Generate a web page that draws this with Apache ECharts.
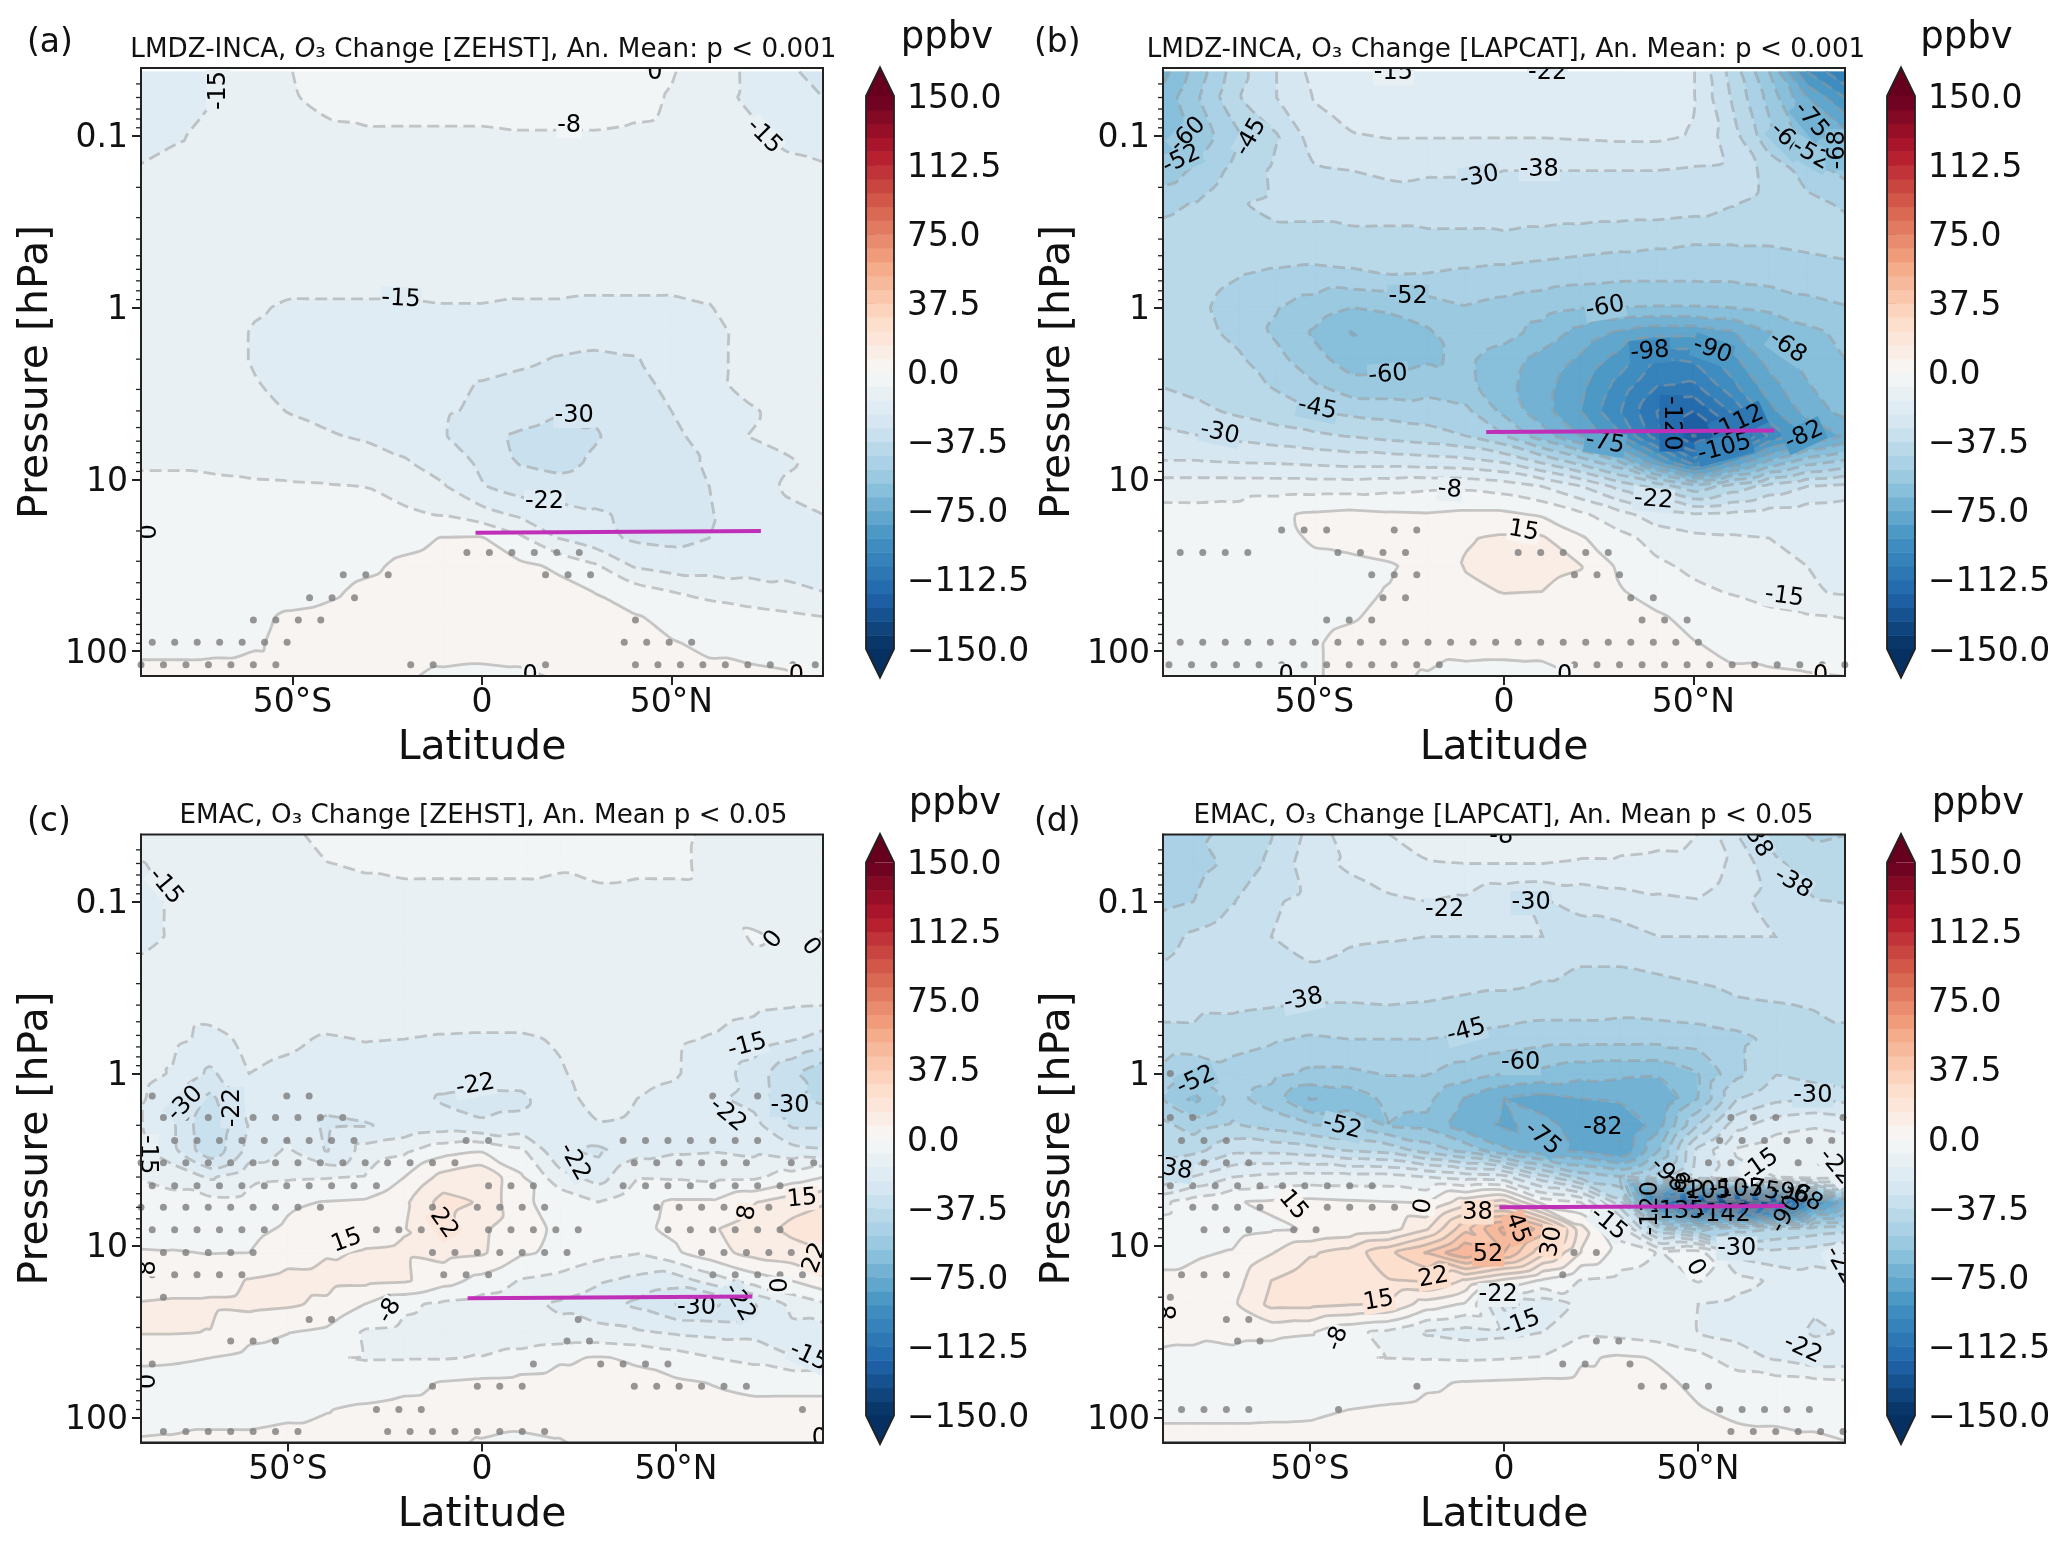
<!DOCTYPE html>
<html><head><meta charset="utf-8">
<style>html,body{margin:0;padding:0;background:#fff}#c{width:2067px;height:1544px}</style>
<script src="https://cdn.jsdelivr.net/npm/echarts@6/dist/echarts.min.js"></script>
</head><body><div id="c"></div>
<script>
// ---------- data ----------
const latGrid = [-90,-80,-70,-60,-50,-40,-30,-20,-10,0,10,20,30,40,50,60,70,80,90];
const pressuresLmdz = [0.0425,0.06,0.1,0.16,0.25,0.4,0.63,1,1.4,2,2.8,4,5.6,8,11,16,22,32,45,63,90,140];
const pressuresEmac = [0.04,0.06,0.1,0.16,0.25,0.4,0.63,1,1.4,2,2.8,4,5.6,8,11,16,22,32,45,63,90,141];

const fieldA = [
[-19,-18,-15.5,-11,-7.5,-5,-4,-4,-4,-4,-4,-4,-4,-5,-7,-11,-16,-21,-25],
[-19,-17.5,-15,-11,-8,-5.5,-4.5,-4.5,-4.5,-4.5,-4.5,-4.5,-4.5,-5.5,-8,-12,-16,-19,-22.5],
[-17,-15.5,-13,-11,-10,-9,-8.5,-8.5,-8.5,-8.5,-8,-8,-8,-8.5,-9,-10,-13,-16.5,-18],
[-14.5,-13,-12,-11,-11,-11,-11,-11,-11,-11,-11,-11,-11,-11,-11,-11,-12,-13,-14],
[-12,-12,-12,-12,-12,-12,-12,-12,-12,-12,-12,-12,-12,-12,-12,-12,-12,-12,-12],
[-12.5,-12.5,-12.5,-12.5,-12.5,-12.5,-12.5,-12.5,-12.5,-12.5,-12.5,-12.5,-12.5,-12.5,-12.5,-12.5,-12.5,-12.5,-12.5],
[-12.5,-12.5,-13,-13,-13.5,-13.5,-13.5,-13.5,-13.5,-13.5,-13.5,-13.5,-13.5,-13.5,-13.5,-13.5,-13,-12.5,-12.5],
[-12,-12,-13,-14.6,-15.5,-15.5,-15.5,-15.5,-15.2,-15.2,-15.5,-15.5,-15.8,-15.8,-15.8,-15.2,-13,-12.5,-12],
[-12,-12,-13.5,-15.3,-16,-17,-17,-17,-17,-17.5,-18,-19,-19.5,-19,-18,-16,-14,-13,-12.5],
[-12,-12,-13.5,-15.3,-17,-18,-18.5,-18.5,-19,-19.5,-21,-23,-24,-23,-20,-16,-14,-13,-12.5],
[-12,-12,-13,-14.8,-16,-17.5,-18.5,-19.5,-20.5,-23,-24.5,-26,-26.5,-24.5,-21,-16,-14,-13,-12.5],
[-12,-12,-13,-13.8,-15.3,-17,-18,-19,-21.5,-24,-26.5,-29,-29,-26,-22.5,-18,-15.5,-14,-13],
[-12,-12,-12.5,-13,-13.5,-14.5,-16,-17.5,-22,-28,-31,-33,-30.5,-27,-24,-20,-15,-14,-13],
[-8,-8,-8.5,-9,-9.5,-10.5,-12,-14.5,-18,-24,-30.5,-32,-29,-26,-24,-22,-18,-15.5,-14],
[-6.5,-6.5,-6.5,-6.8,-7,-7.2,-7.6,-10,-14.5,-22,-26,-27.5,-26.5,-25,-24,-22.5,-18,-14.5,-13.5],
[-4,-4.5,-4.5,-4.5,-4.8,-5.5,-6,-6.5,-8,-12,-16.5,-19,-21.5,-24,-25,-23,-19,-16,-15],
[-2.5,-3,-3,-3,-3,-3,-2.5,-1.5,0.3,0.5,-6,-15,-20,-23.5,-24.5,-22.5,-20,-18,-17],
[-2,-2,-2,-2,-2,-1.8,-0.8,1,2,2.5,1.5,-1,-6.5,-15.5,-18,-18,-17.5,-17,-16.5],
[-2,-2,-2,-1.8,-1.5,-0.6,1,2,2.5,2.5,2.5,2,-0.2,-3.5,-7.5,-10,-12,-13.5,-15],
[-1.8,-1.7,-1.5,-0.6,0.5,1,2,2.5,2.5,2.5,2.5,2.5,2,0.5,-1.5,-3,-4.5,-6,-7.5],
[-1,-1,-0.8,-0.3,0.8,1.5,2,2.5,2.5,2.5,2.5,2.5,2,1.5,0.3,-0.8,-1.5,-2,-2.5],
[1,1,1,1,1,1,1,0.5,-1,-1.5,-1,0.5,1,1,1,1,1,0.5,-0.5]];

const fieldB = [
[-70,-55,-40,-30,-20,-18,-14,-18,-20,-21,-22,-20,-20,-20,-22,-40,-60,-90,-105],
[-65,-52,-38,-30,-22,-18,-17,-18,-19,-20,-20,-20,-20,-20,-22,-38,-55,-75,-90],
[-65,-56,-46,-38,-26,-23,-22,-22,-22,-22,-22,-21.5,-21,-21,-23,-34,-50,-65,-72],
[-57,-50,-42,-36,-31,-30,-28,-29,-29,-30,-30,-30,-30,-30,-31,-32,-40,-48,-55],
[-47,-44,-38,-36,-36,-35,-35,-34,-34,-33,-33,-33,-33,-33,-34,-37,-40,-43,-46],
[-42,-40,-39,-39,-39,-39,-39,-39,-39,-39,-40,-41,-42,-43,-44,-44,-44,-43,-42],
[-41,-42,-44.5,-46,-47,-46,-44.5,-45,-46,-47,-48,-49,-50,-50,-50,-50,-49,-48,-47],
[-41,-44,-48,-52,-56,-60,-59,-56,-53,-55,-57,-59.5,-60,-60.5,-60.5,-60,-58,-55,-53],
[-40,-43,-47,-54,-61,-68,-63,-61,-54,-57,-63,-70,-76,-80,-80,-76,-68,-62,-58],
[-39,-41,-44,-50,-58,-63,-63,-61,-58.5,-64,-70,-76,-85,-98,-96,-85,-72,-65,-60],
[-38,-40,-42,-46,-52,-58,-58,-56,-58,-65,-72,-80,-92,-104,-106,-92,-78,-68,-62],
[-34,-36,-39,-42,-45,-47,-48,-49,-51,-62,-72,-82,-96,-112,-120,-104,-85,-72,-65],
[-28,-30,-32,-34,-36,-38,-40,-42,-45,-52,-64,-75,-88,-108,-128,-118,-96,-82,-74],
[-22,-22,-22.5,-23,-24,-25,-25,-26,-27,-30,-38,-47,-58,-80,-100,-82,-65,-55,-50],
[-11,-11,-11,-11,-11,-11,-10,-9,-9,-11,-15,-22,-32,-40,-50,-42,-35,-30,-28],
[-5,-5,-4.5,-1,1,2,1,0.5,1.5,1.5,-1,-6,-12,-19,-22,-21,-19,-18,-17],
[-4,-4,-3.5,-2.5,1,2,3,4,7,8.5,8.5,1,-5,-10,-13,-14,-15,-15.5,-16],
[-3,-3,-3,-2.5,-2,-1.5,-0.5,2,8,9.5,9.5,8,-1,-6,-9,-11,-13,-15,-16],
[-2.5,-2.5,-2.5,-2,-1.5,-1,0.3,3,6,7.8,7.5,5,0.8,-3,-6,-8,-10.5,-14,-16],
[-2,-2,-2,-1.5,-1,-0.3,1,2.5,3,3.5,3.5,3,2.5,1,-2,-4,-5.5,-6.8,-7.8],
[-1.5,-1.5,-1.5,-1,-0.3,1,2,2.5,3,3,3,3,2.5,2,0.3,-1.5,-2.5,-3.5,-4],
[-1.5,-1.5,-1.5,-1,-0.3,1,1,-0.5,-2.5,-3,-2.5,0.5,1,1,1,1,1,0.5,0]];

const fieldC = [
[-11,-10,-9,-9,-8.5,-6,-5.5,-5.5,-5.5,-5.5,-5.5,-5.5,-6,-6,-6.5,-8.5,-9,-9,-9],
[-16,-13,-10,-9.5,-9,-7.6,-7,-6.5,-6.5,-6.5,-6.5,-7,-6,-6.5,-6.5,-9,-9.5,-9.5,-9.5],
[-17,-14.5,-11,-10,-9.5,-9,-9,-9,-9,-9,-9,-9,-9,-9,-9,-9,-9.5,-9.5,-9.5],
[-17,-14.5,-11,-10,-10,-10,-10,-10,-10,-10,-10,-10,-10,-10,-10,-10,-7,-8.5,-7],
[-14,-12,-11,-11,-11,-11,-11,-11,-11,-11,-11,-11,-11,-11,-11,-10,-9,-9,-9],
[-12,-12,-12,-12,-12,-12,-12,-12,-12,-12,-12,-12,-12,-12,-12,-12.5,-13.5,-14.5,-15],
[-12,-13,-17,-13.5,-14.2,-15.5,-14.8,-15,-15.5,-15.7,-15.7,-14.5,-12.5,-13,-14.2,-15.5,-18,-22,-25],
[-12,-15.5,-24,-15,-16,-17,-17,-17.5,-18,-18,-18,-15.5,-13,-13.5,-14.5,-18.5,-26,-36,-44],
[-13,-19,-32,-19,-17,-20,-19,-19,-23.5,-25,-24.5,-16,-14,-15,-16.5,-21,-25,-36,-40],
[-13,-21,-37,-22,-16,-24,-23,-20.5,-19,-21.5,-20,-16,-15.2,-15.5,-17,-21,-20,-31,-31],
[-11,-20,-36,-20,-14,-23,-12,-9,-3,-1,-6,-21,-24,-18,-16,-15.5,-17,-20,-22],
[-7.5,-10,-16,-9.5,-8.5,-8,-7,0,10,14,1,-12,-18,-8,-8.5,-9.5,-9,-4,1],
[-7,-5,-5,-5,-1,0.3,1,6,18,14,1,-2,-7.5,-2,1,1,7,12,15],
[-5,-4,-3,-2,1,3,5,7,17,9,2,-1,-0.5,-1.5,1.5,7,11,17,20],
[1,0.5,-0.3,0,4,6.8,8,8.5,10,8.5,1,-1.5,-5,-7,-1,5,10,12,15],
[2,3,4,8,10,10,9.5,8.5,3,-2.5,-8,-10,-14,-17,-19,-11,-4,0.3,7],
[8,9,9,9.5,8.5,6,-0.2,-6,-9,-11,-13,-16,-19,-24,-30,-31,-23,-13,-7.5],
[8,8,7.3,2,0.2,-1.5,-8.5,-9.5,-11,-14,-14,-13,-13,-14,-16,-17,-17,-17,-17],
[1,0.7,0,-2,-3,-6.8,-8,-8,-8,-7,-4,-1,0.5,-1,-4,-7.5,-10,-14.5,-16],
[-2,-2,-2.5,-3,-3.5,-4,-3.5,-2,0.5,1.5,2,2.5,2.5,2,1,-0.3,-0.8,-0.8,-0.8],
[-1.5,-1.5,-1.5,-1.5,-1,-0.2,1,2,2.5,3,3,3,3,3,2.5,2,0.8,0.8,0.8],
[0.3,0.5,1,1,1.5,1.5,2,2,1,-0.5,-1.5,-0.5,2,2,2,2,2,2,1]];

const fieldD = [
[-45,-46,-44,-38,-28,-18,-15,-12,-9,-7,-8,-10,-12,-13,-15,-30,-42,-46,-45],
[-47,-48,-43,-36,-26,-21,-17.5,-15.5,-15,-15,-15,-16,-16,-16.5,-16.5,-25,-36,-42,-42],
[-48,-45,-38,-31,-28,-27,-24,-22.5,-24,-29,-30.5,-28,-26,-24,-23,-28,-33,-37,-38],
[-42,-36,-32,-30,-27,-29,-29.5,-30,-30,-30,-30,-33,-33,-30,-30,-30,-30,-31,-32],
[-37,-33,-31,-31,-31,-32,-33,-33,-34,-34,-36,-38,-38,-37,-36,-33,-32,-31,-30],
[-36,-36,-36,-37,-38,-38,-37.5,-38,-39,-40,-41,-41,-42,-41,-40,-39,-38,-37,-37],
[-39,-39,-42,-44,-46,-45,-45,-45,-46,-48,-50,-50,-50,-50,-49,-47,-43,-40,-38],
[-45,-52,-48,-50,-54,-54,-52,-52,-56,-60,-62,-65,-66,-66,-60,-47,-38,-42,-44],
[-50,-62,-50,-56,-68,-65,-58,-58,-68,-75,-78,-75,-73,-75,-60,-38,-32,-30,-33],
[-42,-48,-44,-48,-52,-54,-60,-62,-72,-76,-73,-78,-84,-70,-45,-25,-18,-16,-18],
[-45,-40,-32,-32,-34,-38,-40,-48,-55,-66,-73,-76,-82,-60,-28,-14,-10,-8,-10],
[-30,-22,-15,-13,-12,-12,-12,-15,-18,-20,-35,-48,-52,-42,-25,-18,-15,-12,-16],
[-10,-4,-0.5,1,2,1,0.3,-0.5,12,18,-3,-8,-35,-105,-135,-145,-130,-90,-65],
[-5,-4,-3,-1,0.5,2,4,14,35,55,42,10,-12,-45,-55,-48,-45,-42,-40],
[-3,-1,0.5,7,14,18,28,38,52,45,25,7,-3,-8,-4,-25,-28,-26,-22],
[2,2,4,15,20,21,22,23,14,6,-1,-8,-10,-12,-7,-12,-16.5,-19,-20],
[1.5,2,6,17,17,15.5,14,4,-1,-24,-20,-13,-15,-15,-15,-17,-20,-22,-22],
[1,1,2,2,0.8,-6,-9,-16,-18,-17,-15,-9,-10,-12,-15,-17,-20,-23,-22],
[-0.5,-1,-2,-4,-6.5,-7.2,-7.6,-8,-8.5,-8,-7,-1,1,-0.5,-5,-12,-16,-20,-19.5],
[-3,-3,-3,-3.5,-4,-4,-3.5,-1,0.5,1,1.5,2,2,1,-1,-3,-4,-5,-6],
[-0.7,-0.7,-0.7,-0.6,-0.5,0,0.8,1.5,2,2,2,2,2,2,0.3,-1,-1,-1,-1],
[1,1,1,1,1,1.5,1.5,1.5,1.5,1.5,1.5,1.5,1.5,1.5,1.5,1.5,1,0.5,0]];

// significance dots: pressure, then runs of model columns (every second column)
const stippleA = [
[120,[0,12],[24,26],[36,36],[44,60]],[88.8,[1,13],[43,49]],[66,[10,16],[44,44]],[49,[15,19]],[36,[18,22],[36,40]],[26.7,[29,39]]];
const stippleB = [
[120,[1,25],[37,61]],[88.8,[2,48]],[66,[15,19],[43,47]],[49,[20,22],[42,44]],[36,[19,23],[37,41]],[26.7,[2,8],[16,22],[32,40]],[19.7,[11,15],[21,23]]];
const stippleC = [
[121,[2,14],[22,36]],[90,[21,25],[59,59]],[66,[26,26],[30,34],[44,54]],[49,[1,1],[35,35],[41,47]],[36,[8,12],[38,40]],[27,[15,17],[39,39]],[20,[2,2],[22,22]],
[14.8,[1,9],[27,31],[51,59]],[11,[2,10],[26,38],[50,58]],[8.1,[1,11],[21,25],[31,39],[47,57]],[6,[0,16],[26,26],[30,36],[46,56]],[4.5,[1,21],[31,35],[43,57]],
[3.3,[0,28],[44,54],[58,60]],[2.45,[1,19],[29,31],[43,55]],[1.8,[2,18]],[1.35,[1,1],[13,15],[51,51],[55,55]]];
const stippleD = [
[121,[51,61]],[90,[2,8],[16,16],[50,58]],[66,[23,23],[43,49]],[49,[36,38],[42,42]],[36,[7,9],[39,41]],[27,[6,8]],[20,[1,1]],[14.8,[2,6],[36,36]],[11,[37,39]],
[8.1,[4,8],[12,14]],[6,[3,9],[13,21]],[4.5,[1,11],[13,19]],[3.3,[2,8],[49,51],[57,59]],[2.45,[2,6],[50,60]],[1.8,[1,3],[51,55],[61,61]],[1,[1,1]]];

// contour labels: latitude, pressure, text, rotation
const labelsA = [[-69.6,.0546,'-15',90],[45.6,.0433,'0',0],[23,.088,'-8',0],[74.4,.101,'-15',-45],[-21.4,.893,'-15',-3],[24.3,4.28,'-30',0],[16.5,13.6,'-22',0],[-87.8,20.2,'0',90],[12.7,139,'0',0],[83,139,'0',0]];
const labelsB = [[-29.2,.0433,'-15',0],[11.5,.0433,'-22',0],[-83.4,.099,'-60',45],[-85.1,.138,'-52',25],[-66.8,.102,'-45',60],[-6.5,.174,'-30',10],[9.3,.157,'-38',0],[81,.081,'-75',-50],[74.8,.106,'-60',-45],[81,.129,'-52',-30],[88,.121,'-68',90],[-25.3,.865,'-52',0],[26.7,1,'-60',10],[74.8,1.7,'-68',-35],[38.5,1.81,'-98',5],[55,1.78,'-90',-20],[-30.6,2.47,'-60',5],[-49.3,3.87,'-45',-12],[-75,5.39,'-30',-12],[44.2,4.72,'-120',-90],[61.7,4.72,'-112',25],[26.7,6.15,'-75',-10],[58.2,6.58,'-105',15],[79.2,5.57,'-82',25],[-14.3,11.5,'-8',-5],[39.5,13.2,'-22',-5],[5.2,20,'15',-10],[74,48.3,'-15',-8],[-57.5,139,'0',0],[16,139,'0',0],[83.6,139,'0',0]];
const labelsC = [[-81.6,.0817,'-15',-50],[75.2,.167,'0',50],[84.7,.184,'0',-50],[68.4,.69,'-15',15],[-1.7,1.17,'-22',10],[-76.5,1.5,'-30',45],[-64.3,1.58,'-22',90],[79.4,1.53,'-30',0],[63.3,1.74,'-22',-40],[-86.4,2.96,'-15',-90],[23.8,3.26,'-22',-60],[82.5,5.36,'15',5],[68.5,6.44,'8',80],[-9.9,7.45,'22',-55],[-34.9,9.4,'15',20],[-85.9,13.5,'8',90],[85.9,11.8,'22',70],[76.9,17,'0',90],[-23.8,24,'-8',60],[55.3,22.9,'-30',0],[66.3,21.4,'-22',-60],[84.2,44.4,'-15',-25],[-85.9,61.7,'0',90],[87,134,'0',0]];
const labelsD = [[-.7,.0417,'-8',0],[65,.043,'-38',-60],[74.5,.078,'-38',-30],[-15.3,.112,'-22',0],[7,.102,'-30',0],[-51.7,.373,'-38',12],[-9.7,.567,'-45',15],[4.3,.871,'-60',0],[-79.4,1.1,'-52',25],[79.6,1.34,'-30',0],[-41.7,2.05,'-52',-15],[9.9,2.38,'-75',-40],[25.5,2.08,'-82',0],[66,3.42,'-15',35],[-85.4,3.6,'-38',-10],[85.5,3.49,'-22',-50],[-54.4,5.83,'15',-50],[-20.7,5.91,'0',80],[-6.8,6.44,'38',0],[3.4,7.96,'45',-70],[12.4,9.5,'30',80],[-4.1,11.3,'52',0],[26.9,7.45,'-15',-40],[60,10.4,'-30',0],[49.3,13.5,'0',-60],[-18.2,15.4,'22',10],[-32.3,21,'15',10],[-1.5,19.4,'-22',0],[-42.9,34.8,'-8',70],[4.4,28.5,'-15',20],[77,40.2,'-22',-25],[-86.2,24.5,'8',90],[86.7,13,'-22',-60]];
const jetLabelsD = [[37.8,6.08,'-120',90],[42.2,3.9,'-98',-45],[44.7,6.36,'-135',0],[56.6,6.6,'-142',0],[51.5,4.85,'-105',0],[59.9,4.75,'-105',0],[66,4.75,'-75',-10],[73.8,4.98,'-98',-10],[77.2,5.18,'-68',-30],[72.8,6.6,'-90',60],[46.4,4.45,'-82',-30]];

// pink tracks: latitude, pressure
const trackA = [[-1.7,20.5],[73.6,20]];
const trackB = [[-4.7,5.3],[71.3,5.2]];
const trackC = [[-3.7,20.3],[69.7,19.8]];
const trackD = [[-1.2,6],[72.3,5.9]];

const titleTexts = [
 'LMDZ-INCA, {i|O}₃ Change [ZEHST], An. Mean: p < 0.001',
 'LMDZ-INCA, O₃ Change [LAPCAT], An. Mean: p < 0.001',
 'EMAC, O₃ Change [ZEHST], An. Mean p < 0.05',
 'EMAC, O₃ Change [LAPCAT], An. Mean p < 0.05'];
const panelTags = ['(a)','(b)','(c)','(d)'];
const unitText = 'ppbv';
const latTicks = [-50,0,50];
const latTickLabels = ['50°S','0','50°N'];
const pressureTicks = {0.1:'0.1',1:'1',10:'10',100:'100'};
const minorPressures = [.05,.06,.07,.08,.09,.2,.3,.4,.5,.6,.7,.8,.9,2,3,4,5,6,7,8,9,20,30,40,50,60,70,80,90];
const colorbarMin = -150, colorbarMax = 150, colorStep = 7.5, colorbarTickStep = 37.5;
const rdbuAnchors = ['#053061','#2166ac','#4393c3','#92c5de','#d1e5f0','#f7f7f7','#fddbc7','#f4a582','#d6604d','#b2182b','#67001f'];

// ---------- layout ----------
const FONT = 'DejaVu Sans';
const panels = [
 {field:fieldA, ps:pressuresLmdz, st:stippleA, lat0:-90, step:2.966, labels:labelsA, jet:[], track:trackA, x:141, y:68, latLim:90, pMin:.0404, pMax:139.6, cbx:866, tx:478.4, ty:45, tagx:22, tagy:38, ux:942, uy:33.5},
 {field:fieldB, ps:pressuresLmdz, st:stippleB, lat0:-91.4, step:2.973, labels:labelsB, jet:[], track:trackB, x:1163, y:68, latLim:90, pMin:.0404, pMax:139.6, cbx:1887, tx:1501, ty:45, tagx:1029, tagy:38, ux:1961.5, uy:33.5},
 {field:fieldC, ps:pressuresEmac, st:stippleC, lat0:-87.9, step:2.89, labels:labelsC, jet:[], track:trackC, x:141, y:834.5, latLim:87.9, pMin:.0407, pMax:140, cbx:866, tx:478.4, ty:811, tagx:22, tagy:817, ux:950, uy:799},
 {field:fieldD, ps:pressuresEmac, st:stippleD, lat0:-88.9, step:2.89, labels:labelsD, jet:jetLabelsD, track:trackD, x:1163, y:834.5, latLim:87.9, pMin:.0407, pMax:140, cbx:1887, tx:1498.5, ty:811, tagx:1029, tagy:817, ux:1973, uy:799}
];
const GW = 682, GH = 608, CBW = 28;

// ---------- colours ----------
function hex(c){return [1,3,5].map(i=>parseInt(c.substr(i,2),16));}
function bandColor(mid){
  const t = Math.max(0,Math.min(1,(mid-colorbarMin)/(colorbarMax-colorbarMin)))*(rdbuAnchors.length-1);
  const i = Math.min(rdbuAnchors.length-2,Math.floor(t)), f=t-i, a=hex(rdbuAnchors[i]), b=hex(rdbuAnchors[i+1]);
  return 'rgb('+a.map((v,k)=>Math.round(v+(b[k]-v)*f)).join(',')+')';
}
const levels=[]; for(let v=colorbarMin;v<=colorbarMax+1e-6;v+=colorStep) levels.push(v);

// value of the table under a label, for the patch behind its text
function tableValue(P,lat,p){
  const lp=Math.log10(p),ys=P.ps.map(Math.log10);
  let r=0; while(r<ys.length-2&&lp>ys[r+1])r++;
  let c=0; while(c<latGrid.length-2&&lat>latGrid[c+1])c++;
  const u=Math.max(0,Math.min(1,(lat-latGrid[c])/(latGrid[c+1]-latGrid[c]))),w=Math.max(0,Math.min(1,(lp-ys[r])/(ys[r+1]-ys[r])));
  const F=P.field;
  return (F[r][c]*(1-u)+F[r][c+1]*u)*(1-w)+(F[r+1][c]*(1-u)+F[r+1][c+1]*u)*w;
}
function colorOfValue(v){return bandColor((Math.floor(v/colorStep)+.5)*colorStep);}

// ---------- contouring of a value table (marching triangles) ----------
function buildContours(lats, ps, f){
  const nr=ps.length,nc=lats.length,V=[];
  for(let r=0;r<nr;r++)for(let c=0;c<nc;c++)V.push([lats[c],Math.log10(ps[r]),f[r][c]]);
  const T=[];
  for(let r=0;r<nr-1;r++)for(let c=0;c<nc-1;c++){
    const a=r*nc+c,b=a+1,d=a+nc,e=d+1;
    T.push([a,b,e],[a,e,d]);
  }
  const mix=(p,q,L)=>{const t=(L-p[2])/(q[2]-p[2]);return [p[0]+(q[0]-p[0])*t,p[1]+(q[1]-p[1])*t,L];};
  const clip=(poly,L,keepAbove)=>{
    const out=[],n=poly.length;
    for(let i=0;i<n;i++){
      const p=poly[i],q=poly[(i+1)%n],ip=keepAbove?p[2]>=L:p[2]<=L,iq=keepAbove?q[2]>=L:q[2]<=L;
      if(ip)out.push(p); if(ip!==iq)out.push(mix(p,q,L));
    }
    return out;
  };
  const bands=levels.slice(0,-1).map(()=>[]);
  T.forEach(t=>{
    const tri=t.map(i=>V[i]),vs=tri.map(p=>p[2]),mn=Math.min(...vs),mx=Math.max(...vs);
    bands.forEach((list,k)=>{
      const lo=levels[k],hi=levels[k+1];
      if(mx<lo||mn>hi)return;
      let poly=clip(tri,lo,true); if(poly.length<3)return;
      poly=clip(poly,hi,false); if(poly.length<3)return;
      list.push(poly);
    });
  });
  const lines=[];
  levels.forEach(L=>{
    const segs=[],byKey={};
    T.forEach(t=>{
      const cr=[];
      [[t[0],t[1]],[t[1],t[2]],[t[2],t[0]]].forEach(([a,b])=>{
        if((V[a][2]>=L)!==(V[b][2]>=L)) cr.push({k:Math.min(a,b)+'_'+Math.max(a,b),p:mix(V[a],V[b],L)});
      });
      if(cr.length===2){const id=segs.length;segs.push({e:cr,u:false});cr.forEach(x=>(byKey[x.k]=byKey[x.k]||[]).push(id));}
    });
    segs.forEach(s=>{
      if(s.u)return; s.u=true;
      const pts=[s.e[0].p,s.e[1].p];
      const walk=(key,push)=>{
        for(;;){
          const nx=(byKey[key]||[]).map(i=>segs[i]).find(z=>!z.u);
          if(!nx)return; nx.u=true;
          const o=nx.e[0].k===key?nx.e[1]:nx.e[0];
          push(o.p); key=o.k;
        }
      };
      walk(s.e[1].k,p=>pts.push(p));
      walk(s.e[0].k,p=>pts.unshift(p));
      lines.push({L,pts});
    });
  });
  return {bands,lines};
}

// ---------- option ----------
const option = {animation:false,backgroundColor:'#fff',textStyle:{fontFamily:FONT},title:[],grid:[],xAxis:[],yAxis:[],series:[]};
const axisCol='#222';

panels.forEach((P,i)=>{
  const ci=i*2, cb=i*2+1, cnt=buildContours(latGrid,P.ps,P.field);
  option.title.push({text:titleTexts[i],left:P.tx,top:P.ty,textAlign:'center',textVerticalAlign:'middle',textStyle:{fontFamily:FONT,fontSize:26.2,fontWeight:'normal',color:'#111',rich:{i:{fontFamily:FONT,fontSize:26.2,fontStyle:'italic',color:'#111'}}}});
  option.title.push({text:panelTags[i],left:P.tagx,top:P.tagy,textVerticalAlign:'middle',textStyle:{fontFamily:FONT,fontSize:33,fontWeight:'normal',color:'#111'}});
  option.title.push({text:unitText,left:P.ux,top:P.uy,textAlign:'center',textVerticalAlign:'middle',textStyle:{fontFamily:FONT,fontSize:37,fontWeight:'normal',color:'#111'}});
  option.grid.push({left:P.x,top:P.y,width:GW,height:GH,outerBoundsMode:'none'});
  option.grid.push({left:P.cbx,top:P.y+28,width:CBW,height:553,outerBoundsMode:'none'});
  option.xAxis.push({gridIndex:ci,type:'value',min:-P.latLim,max:P.latLim,splitLine:{show:false},name:'Latitude',nameLocation:'middle',nameGap:52,nameMoveOverlap:false,
    nameTextStyle:{fontFamily:FONT,fontSize:41,color:'#111'},
    axisLine:{onZero:false,lineStyle:{color:axisCol,width:2}},axisTick:{show:true,length:9,lineStyle:{color:axisCol,width:2},customValues:latTicks},
    axisLabel:{fontFamily:FONT,fontSize:33,color:'#111',margin:11,customValues:latTicks,formatter:v=>latTickLabels[latTicks.indexOf(v)]||''}});
  option.yAxis.push({gridIndex:ci,type:'log',logBase:10,min:P.pMin,max:P.pMax,inverse:true,splitLine:{show:false},name:'Pressure [hPa]',nameLocation:'middle',nameGap:84.5,nameMoveOverlap:false,
    nameTextStyle:{fontFamily:FONT,fontSize:41,color:'#111'},
    axisLine:{onZero:false,lineStyle:{color:axisCol,width:2}},axisTick:{show:true,length:9,lineStyle:{color:axisCol,width:2},customValues:[.1,1,10,100]},
    axisLabel:{fontFamily:FONT,fontSize:33,color:'#111',margin:13,verticalAlign:'top',lineHeight:6,customValues:[.1,1,10,100],formatter:v=>pressureTicks[+(+v).toPrecision(3)]||''}});
  option.xAxis.push({gridIndex:cb,type:'value',min:0,max:1,show:false});
  option.yAxis.push({gridIndex:cb,type:'value',position:'right',min:colorbarMin,max:colorbarMax,interval:colorbarTickStep,splitLine:{show:false},
    axisLine:{show:false},axisTick:{show:true,length:9,lineStyle:{color:axisCol,width:2}},
    axisLabel:{fontFamily:FONT,fontSize:33,color:'#111',margin:13,verticalAlign:'top',lineHeight:6,formatter:v=>(v<0?'\u2212':'')+Math.abs(v).toFixed(1)}});

  // filled bands and contour lines
  option.series.push({type:'custom',coordinateSystem:'cartesian2d',xAxisIndex:ci,yAxisIndex:ci,clip:true,silent:true,z:2,data:[[0,1]],
    renderItem:(params,api)=>{
      const children=[];
      const pt=q=>api.coord([q[0],Math.pow(10,q[1])]);
      cnt.bands.forEach((polys,k)=>{
        if(!polys.length)return;
        let d='',x0=1e9,y0=1e9,x1=-1e9,y1=-1e9;
        polys.forEach(poly=>{
          poly.forEach((q,n)=>{
            const c=pt(q);
            x0=Math.min(x0,c[0]);x1=Math.max(x1,c[0]);y0=Math.min(y0,c[1]);y1=Math.max(y1,c[1]);
            d+=(n?'L':'M')+c[0].toFixed(2)+' '+c[1].toFixed(2);
          });
          d+='Z';
        });
        const col=bandColor((levels[k]+levels[k+1])/2);
        children.push({type:'path',shape:{pathData:d,x:x0,y:y0,width:x1-x0,height:y1-y0,layout:'cover'},style:{fill:col,stroke:col,lineWidth:.8}});
      });
      cnt.lines.forEach(l=>{
        children.push({type:'polyline',shape:{points:l.pts.map(pt),smooth:0.25},style:{fill:'none',stroke:'rgba(150,150,150,0.5)',lineWidth:2.8,lineDash:l.L<0?[12,6]:null}});
      });
      return {type:'group',children};
    }});
  // significance dots
  const dots=[];
  P.st.forEach(row=>{row.slice(1).forEach(([a,b])=>{for(let j=a;j<=b;j+=2)dots.push([P.lat0+P.step*j,row[0]]);});});
  option.series.push({type:'scatter',xAxisIndex:ci,yAxisIndex:ci,data:dots,symbolSize:7,itemStyle:{color:'#7d7d7d'},silent:true,z:3,clip:true});
  // contour labels
  option.series.push({type:'custom',coordinateSystem:'cartesian2d',xAxisIndex:ci,yAxisIndex:ci,clip:true,silent:true,z:4,data:[[0,1]],
    renderItem:(params,api)=>{
      const mk=(arr,bg)=>arr.map(([la,p,t,r])=>{
        const c=api.coord([la,p]);
        return {type:'text',x:c[0],y:c[1],rotation:r*Math.PI/180,style:{text:t,fill:'#000',font:'24px "DejaVu Sans"',align:'center',verticalAlign:'middle',
          backgroundColor:bg?colorOfValue(tableValue(P,la,p)):null,padding:bg?[0,1]:0}};
      });
      return {type:'group',children:mk(P.labels,true).concat(mk(P.jet,false))};
    }});
  // pink track
  option.series.push({type:'line',xAxisIndex:ci,yAxisIndex:ci,data:P.track,showSymbol:false,lineStyle:{color:'#bf2fb8',width:4},silent:true,z:6});
  // frame and minor pressure ticks
  option.series.push({type:'custom',coordinateSystem:'cartesian2d',xAxisIndex:ci,yAxisIndex:ci,clip:false,silent:true,z:7,data:[[0,1]],
    renderItem:(params,api)=>{
      const s=params.coordSys,children=[{type:'rect',shape:{x:s.x,y:s.y,width:s.width,height:s.height},style:{fill:'none',stroke:axisCol,lineWidth:2}}];
      minorPressures.forEach(p=>{const c=api.coord([-P.latLim,p]);children.push({type:'line',shape:{x1:c[0],y1:c[1],x2:c[0]-5,y2:c[1]},style:{stroke:axisCol,lineWidth:1.3}});});
      return {type:'group',children};
    }});
  // colour bar
  option.series.push({type:'custom',coordinateSystem:'cartesian2d',xAxisIndex:cb,yAxisIndex:cb,clip:false,silent:true,z:2,data:[[0,0]],
    renderItem:(params,api)=>{
      const children=[];
      for(let k=0;k<levels.length-1;k++){
        const a=api.coord([0,levels[k]]),b=api.coord([1,levels[k+1]]);
        children.push({type:'rect',shape:{x:a[0],y:b[1],width:b[0]-a[0],height:a[1]-b[1]+.5},style:{fill:bandColor((levels[k]+levels[k+1])/2)}});
      }
      const tl=api.coord([0,colorbarMax]),tr=api.coord([1,colorbarMax]),bl=api.coord([0,colorbarMin]),br=api.coord([1,colorbarMin]);
      const tip=api.size([0,15.6])[1],mid=(tl[0]+tr[0])/2;
      children.push({type:'polygon',shape:{points:[tl,[mid,tl[1]-tip],tr]},style:{fill:rdbuAnchors[10]}});
      children.push({type:'polygon',shape:{points:[bl,[mid,bl[1]+tip],br]},style:{fill:rdbuAnchors[0]}});
      children.push({type:'polygon',shape:{points:[tl,[mid,tl[1]-tip],tr,br,[mid,bl[1]+tip],bl]},style:{fill:'none',stroke:axisCol,lineWidth:1.8}});
      return {type:'group',children};
    }});
});
const chart=echarts.init(document.getElementById('c'),null,{renderer:'canvas',width:2067,height:1544});
chart.setOption(option);
</script></body></html>
